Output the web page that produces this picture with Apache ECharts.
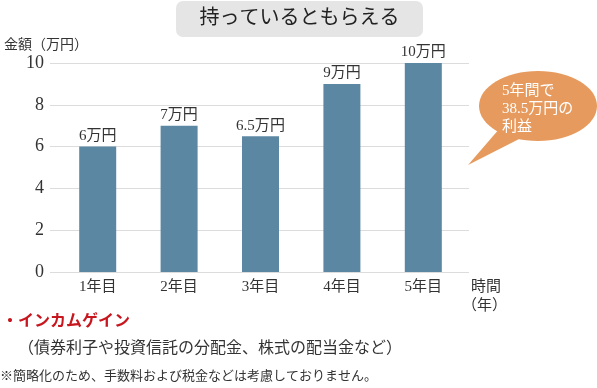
<!DOCTYPE html>
<html><head><meta charset="utf-8">
<script src="https://cdn.jsdelivr.net/npm/echarts@6/dist/echarts.min.js"></script>
<style>html,body{margin:0;padding:0;background:#fff}#c{width:597px;height:388px}</style>
</head><body><div id="c"></div>
<script>
const categories = ['1年目','2年目','3年目','4年目','5年目'];
const values = [6, 7, 6.5, 9, 10];
const barLabels = ['6万円','7万円','6.5万円','9万円','10万円'];
const yTicks = [0, 2, 4, 6, 8, 10];

const FONT = "'Liberation Serif','DejaVu Serif','Noto Sans CJK JP',serif";
const chart = echarts.init(document.getElementById('c'));
const gTop = 63, gBottom = 388 - 272;
chart.setOption({
  animation: false,
  textStyle: { fontFamily: FONT },
  grid: [
    { left: 57, right: 133, top: gTop, bottom: gBottom },
    { left: 50, right: 128, top: gTop, bottom: gBottom }
  ],
  xAxis: [
    { type: 'category', gridIndex: 0, data: categories,
      axisLine: { show: false }, axisTick: { show: false },
      axisLabel: { fontFamily: FONT, fontSize: 15, color: '#333', margin: 8 } },
    { type: 'value', gridIndex: 1, show: false, min: 0, max: 1 }
  ],
  yAxis: [
    { type: 'value', gridIndex: 0, min: 0, max: 10, interval: 2, show: false },
    { type: 'value', gridIndex: 1, min: yTicks[0], max: yTicks[yTicks.length - 1], interval: 2,
      axisLine: { show: false }, axisTick: { show: false },
      splitLine: { lineStyle: { color: '#dcdcdc', width: 1 } },
      axisLabel: { fontFamily: FONT, fontSize: 18, color: '#333', margin: 6 } }
  ],
  series: [{
    type: 'bar', xAxisIndex: 0, yAxisIndex: 0,
    data: values, barWidth: 37,
    itemStyle: { color: '#5b87a3' },
    label: { show: true, position: 'top', distance: 3, fontFamily: FONT, fontSize: 15, color: '#333',
      formatter: p => barLabels[p.dataIndex] }
  }],
  graphic: [
    { type: 'rect', shape: { x: 176, y: 1, width: 247, height: 36, r: 7 }, style: { fill: '#e5e5e5' } },
    { type: 'text', x: 299.5, y: 19, style: { text: '持っているともらえる', fontFamily: FONT, fontSize: 20, fill: '#222', align: 'center', verticalAlign: 'middle' } },
    { type: 'text', x: 4, y: 45, style: { text: '金額（万円）', fontFamily: FONT, fontSize: 14, fill: '#333', verticalAlign: 'middle' } },
    { type: 'text', x: 471, y: 287, style: { text: '時間', fontFamily: FONT, fontSize: 15, fill: '#333', verticalAlign: 'middle' } },
    { type: 'text', x: 462, y: 306, style: { text: '（年）', fontFamily: FONT, fontSize: 15, fill: '#333', verticalAlign: 'middle' } },
    { type: 'polygon', shape: { points: [[500, 128], [468, 165], [525, 136]] }, style: { fill: '#e79a5d' } },
    { type: 'ellipse', shape: { cx: 538, cy: 106, rx: 59, ry: 35 }, style: { fill: '#e79a5d' } },
    { type: 'text', x: 502, y: 91, style: { text: '5年間で', fontFamily: FONT, fontSize: 15, fill: '#fff', verticalAlign: 'middle' } },
    { type: 'text', x: 502, y: 109, style: { text: '38.5万円の', fontFamily: FONT, fontSize: 15, fill: '#fff', verticalAlign: 'middle' } },
    { type: 'text', x: 502, y: 127, style: { text: '利益', fontFamily: FONT, fontSize: 15, fill: '#fff', verticalAlign: 'middle' } },
    { type: 'text', x: 2, y: 322, style: { text: '・インカムゲイン', fontFamily: FONT, fontSize: 16, fontWeight: 'bold', fill: '#c8161e', verticalAlign: 'middle' } },
    { type: 'text', x: 18, y: 349, style: { text: '（債券利子や投資信託の分配金、株式の配当金など）', fontFamily: FONT, fontSize: 16, fill: '#333', verticalAlign: 'middle' } },
    { type: 'text', x: 0, y: 377, style: { text: '※簡略化のため、手数料および税金などは考慮しておりません。', fontFamily: FONT, fontSize: 13, fill: '#333', verticalAlign: 'middle' } }
  ]
});
</script></body></html>
